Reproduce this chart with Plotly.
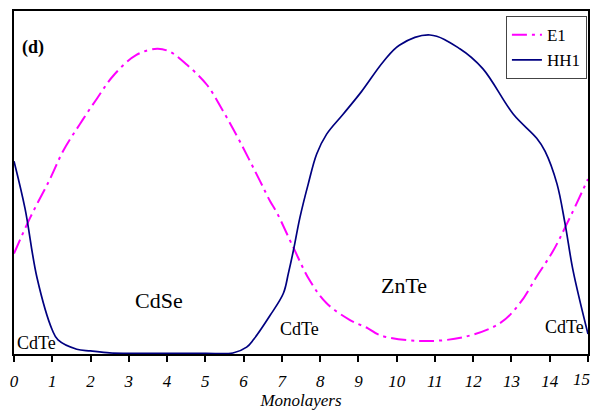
import plotly.graph_objects as go

# E1 (electron) wavefunction probability, arbitrary units
e1_x = [0, 0.42, 0.94, 1.28, 1.72, 2.17, 2.6, 3.2, 3.74, 4.08, 4.52, 5.04, 5.47, 5.9, 6.43, 6.69, 6.87, 7.29, 7.73, 8.17, 8.78, 9.25, 9.56, 10.6, 11.74, 12.7, 13.22, 13.66, 14.09, 14.45, 15]
e1_y = [0.293, 0.397, 0.510, 0.591, 0.670, 0.745, 0.812, 0.872, 0.890, 0.881, 0.843, 0.785, 0.707, 0.620, 0.504, 0.446, 0.412, 0.313, 0.214, 0.148, 0.099, 0.075, 0.055, 0.038, 0.049, 0.090, 0.148, 0.226, 0.301, 0.380, 0.510]

# HH1 (heavy hole) wavefunction probability, arbitrary units
hh_x = [0, 0.29, 0.6, 1.0, 1.15, 1.64, 2.0, 2.5, 3.0, 4.0, 5.0, 5.72, 6.08, 6.26, 6.69, 7.04, 7.17, 7.30, 7.47, 7.69, 7.91, 8.17, 8.6, 9.08, 9.65, 10.08, 10.87, 11.65, 12.25, 13.05, 13.66, 13.88, 14.19, 14.4, 14.61, 15]
hh_y = [0.562, 0.423, 0.223, 0.070, 0.041, 0.014, 0.009, 0.003, 0.002, 0.002, 0.002, 0.003, 0.020, 0.042, 0.112, 0.177, 0.235, 0.301, 0.397, 0.496, 0.583, 0.641, 0.699, 0.765, 0.852, 0.901, 0.930, 0.890, 0.832, 0.699, 0.629, 0.591, 0.496, 0.380, 0.243, 0.058]

x_ticks = list(range(0, 16))
# last tick label sits at the page edge; it is drawn as an annotation so it is not hidden
x_ticktext = [f"<i>{v}</i>" for v in x_ticks[:-1]] + [""]
last_tick_label = f"<i>{x_ticks[-1]}</i>"

labels = ["CdTe", "CdSe", "CdTe", "ZnTe", "CdTe"]
label_x = [0.59, 3.78, 7.45, 10.19, 14.38]
label_y = [0.032, 0.157, 0.072, 0.200, 0.078]
label_size = [18, 22, 18, 22, 18]

FONT = "Liberation Serif"

fig = go.Figure()
fig.add_trace(go.Scatter(x=e1_x, y=e1_y, mode="lines", name="E1",
                         line=dict(color="#FF00FF", width=2, dash="15px,5px,3px,5px", shape="spline")))
fig.add_trace(go.Scatter(x=hh_x, y=hh_y, mode="lines", name="HH1",
                         line=dict(color="#000080", width=1.7, shape="spline")))

for t, x, y, s in zip(labels, label_x, label_y, label_size):
    fig.add_annotation(x=x, y=y, xref="x", yref="y", text=t, showarrow=False,
                       font=dict(family=FONT, size=s, color="black"))

fig.add_annotation(x=0.157, y=0.893, xref="x", yref="y", text="<b>(d)</b>",
                   showarrow=False, xanchor="left", font=dict(family=FONT, size=18, color="black"))

fig.add_annotation(x=1.005, y=-0.074, xref="paper", yref="paper", text=last_tick_label,
                   showarrow=False, xanchor="right", yanchor="middle", borderpad=0,
                   font=dict(family=FONT, size=17, color="black"))

fig.update_layout(
    width=583, height=402,
    margin=dict(l=6, r=3, t=1, b=56),
    paper_bgcolor="white", plot_bgcolor="white",
    font=dict(family=FONT, color="black"),
    showlegend=True,
    legend=dict(x=0.857, y=0.985, xanchor="left", yanchor="top",
                bgcolor="white", bordercolor="#444", borderwidth=1,
                font=dict(family=FONT, size=17, color="black"),
                itemwidth=30, tracegroupgap=0),
    xaxis=dict(range=[0, 15], tickvals=x_ticks, ticktext=x_ticktext,
               ticks="outside", ticklen=6, tickwidth=1.5, tickcolor="black",
               ticklabelstandoff=5,
               showline=True, linecolor="black", linewidth=2, mirror=True,
               showgrid=False, zeroline=False,
               tickfont=dict(family=FONT, size=17, color="black"),
               title=dict(text="<i>Monolayers</i>", font=dict(family=FONT, size=17, color="black"), standoff=5)),
    yaxis=dict(range=[0, 1], showticklabels=False, ticks="",
               showline=True, linecolor="black", linewidth=2, mirror=True,
               showgrid=False, zeroline=False),
)

fig.write_html("out.html", config={"displayModeBar": False})
